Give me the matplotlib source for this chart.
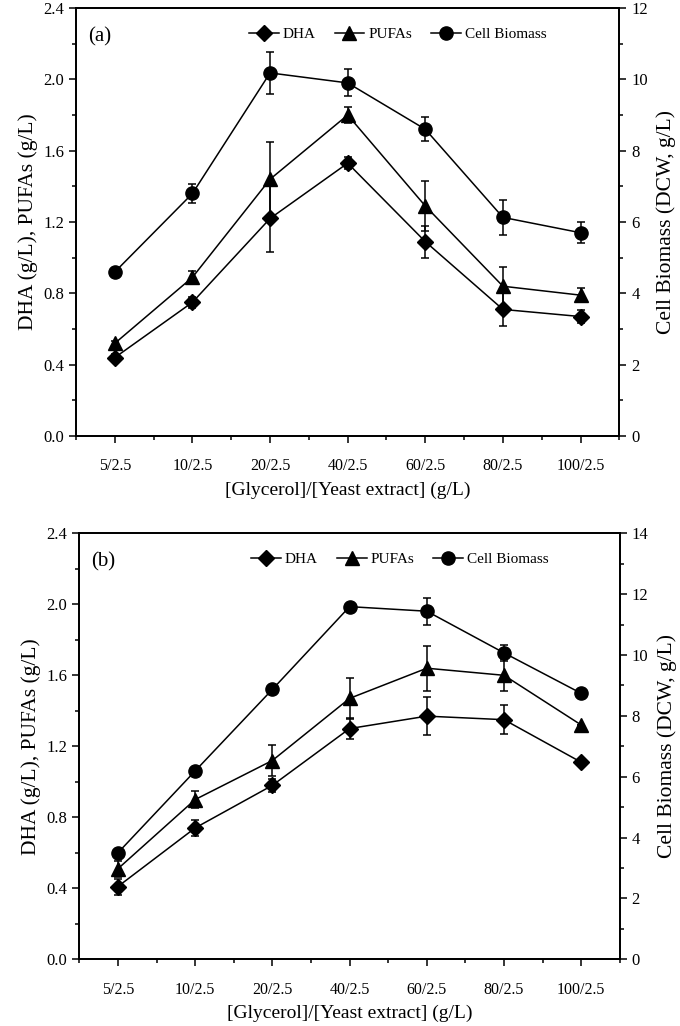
import numpy as np
import matplotlib.pyplot as plt
from matplotlib.lines import Line2D
from matplotlib.ticker import MultipleLocator

plt.rcParams['font.family'] = ['Liberation Serif', 'DejaVu Serif']

categories = ["5/2.5", "10/2.5", "20/2.5", "40/2.5", "60/2.5", "80/2.5", "100/2.5"]

# panel (a)
dha_a = [0.44, 0.75, 1.22, 1.53, 1.09, 0.71, 0.67]
dha_a_err = [0.02, 0.03, 0.19, 0.035, 0.09, 0.095, 0.035]
pufa_a = [0.52, 0.89, 1.44, 1.80, 1.29, 0.84, 0.79]
pufa_a_err = [0.015, 0.035, 0.21, 0.045, 0.14, 0.11, 0.04]
cell_a = [4.6, 6.8, 10.18, 9.9, 8.6, 6.13, 5.7]
cell_a_err = [0.05, 0.27, 0.6, 0.38, 0.34, 0.49, 0.3]

# panel (b)
dha_b = [0.41, 0.74, 0.98, 1.30, 1.37, 1.35, 1.11]
dha_b_err = [0.045, 0.045, 0.035, 0.06, 0.107, 0.08, 0.0]
pufa_b = [0.51, 0.90, 1.12, 1.47, 1.64, 1.60, 1.32]
pufa_b_err = [0.045, 0.05, 0.085, 0.115, 0.127, 0.09, 0.0]
cell_b = [3.5, 6.19, 8.87, 11.59, 11.44, 10.07, 8.74]
cell_b_err = [0.0, 0.0, 0.0, 0.0, 0.44, 0.25, 0.0]

series_names = ['DHA', 'PUFAs', 'Cell Biomass']
markers = ['D', '^', 'o']
msizes = [8.5, 10, 9.5]


def draw_panel(ax, tag, dha, dha_err, pufa, pufa_err, cell, cell_err, rmax):
    x = np.arange(len(categories))
    ax2 = ax.twinx()
    kw = dict(color='black', lw=1.1, capsize=3, elinewidth=1.1, capthick=1.1)
    ax.errorbar(x, dha, yerr=dha_err, marker=markers[0], ms=msizes[0], **kw)
    ax.errorbar(x, pufa, yerr=pufa_err, marker=markers[1], ms=msizes[1], **kw)
    ax2.errorbar(x, cell, yerr=cell_err, marker=markers[2], ms=msizes[2], **kw)

    ax.set_xlim(-0.5, len(categories) - 0.5)
    ax.set_ylim(0, 2.4)
    yt = np.arange(0, 2.41, 0.4)
    ax.set_yticks(yt)
    ax.set_yticklabels([f"{v:.1f}" for v in yt])
    ax.yaxis.set_minor_locator(MultipleLocator(0.2))
    ax.set_xticks(x)
    ax.set_xticklabels(categories)
    ax.xaxis.set_minor_locator(MultipleLocator(0.5))
    ax2.set_ylim(0, rmax)
    ax2.yaxis.set_major_locator(MultipleLocator(2))
    ax2.yaxis.set_minor_locator(MultipleLocator(1))

    for a in (ax, ax2):
        a.tick_params(which='major', direction='out', length=5, width=1.1, labelsize=12)
        a.tick_params(which='minor', direction='out', length=3, width=1.1)
        for s in a.spines.values():
            s.set_linewidth(1.3)
    ax.tick_params(axis='x', which='major', labelsize=11.5, pad=11)

    ax.set_xlabel("[Glycerol]/[Yeast extract] (g/L)", fontsize=14, labelpad=5)
    ax.set_ylabel("DHA (g/L), PUFAs (g/L)", fontsize=15.5, labelpad=4)
    ax2.set_ylabel("Cell Biomass (DCW, g/L)", fontsize=15.5, labelpad=6)
    ax.text(0.022, 0.955, tag, transform=ax.transAxes, fontsize=15, va='top', ha='left')

    handles = [Line2D([], [], color='black', lw=1.1, marker=m, ms=s)
               for m, s in zip(markers, msizes)]
    ax.legend(handles, series_names, ncol=3, frameon=False,
              loc='center left', bbox_to_anchor=(0.318, 0.939),
              borderpad=0, borderaxespad=0, fontsize=11,
              handlelength=1.95, handletextpad=0.25, columnspacing=1.25)


fig = plt.figure(figsize=(6.8, 10.26), dpi=100)
ax_a = fig.add_axes([0.1118, 0.575, 0.799, 0.4172])
ax_b = fig.add_axes([0.1166, 0.065, 0.795, 0.4152])

draw_panel(ax_a, "(a)", dha_a, dha_a_err, pufa_a, pufa_a_err, cell_a, cell_a_err, 12)
draw_panel(ax_b, "(b)", dha_b, dha_b_err, pufa_b, pufa_b_err, cell_b, cell_b_err, 14)

fig.savefig("out.png", dpi=100)
